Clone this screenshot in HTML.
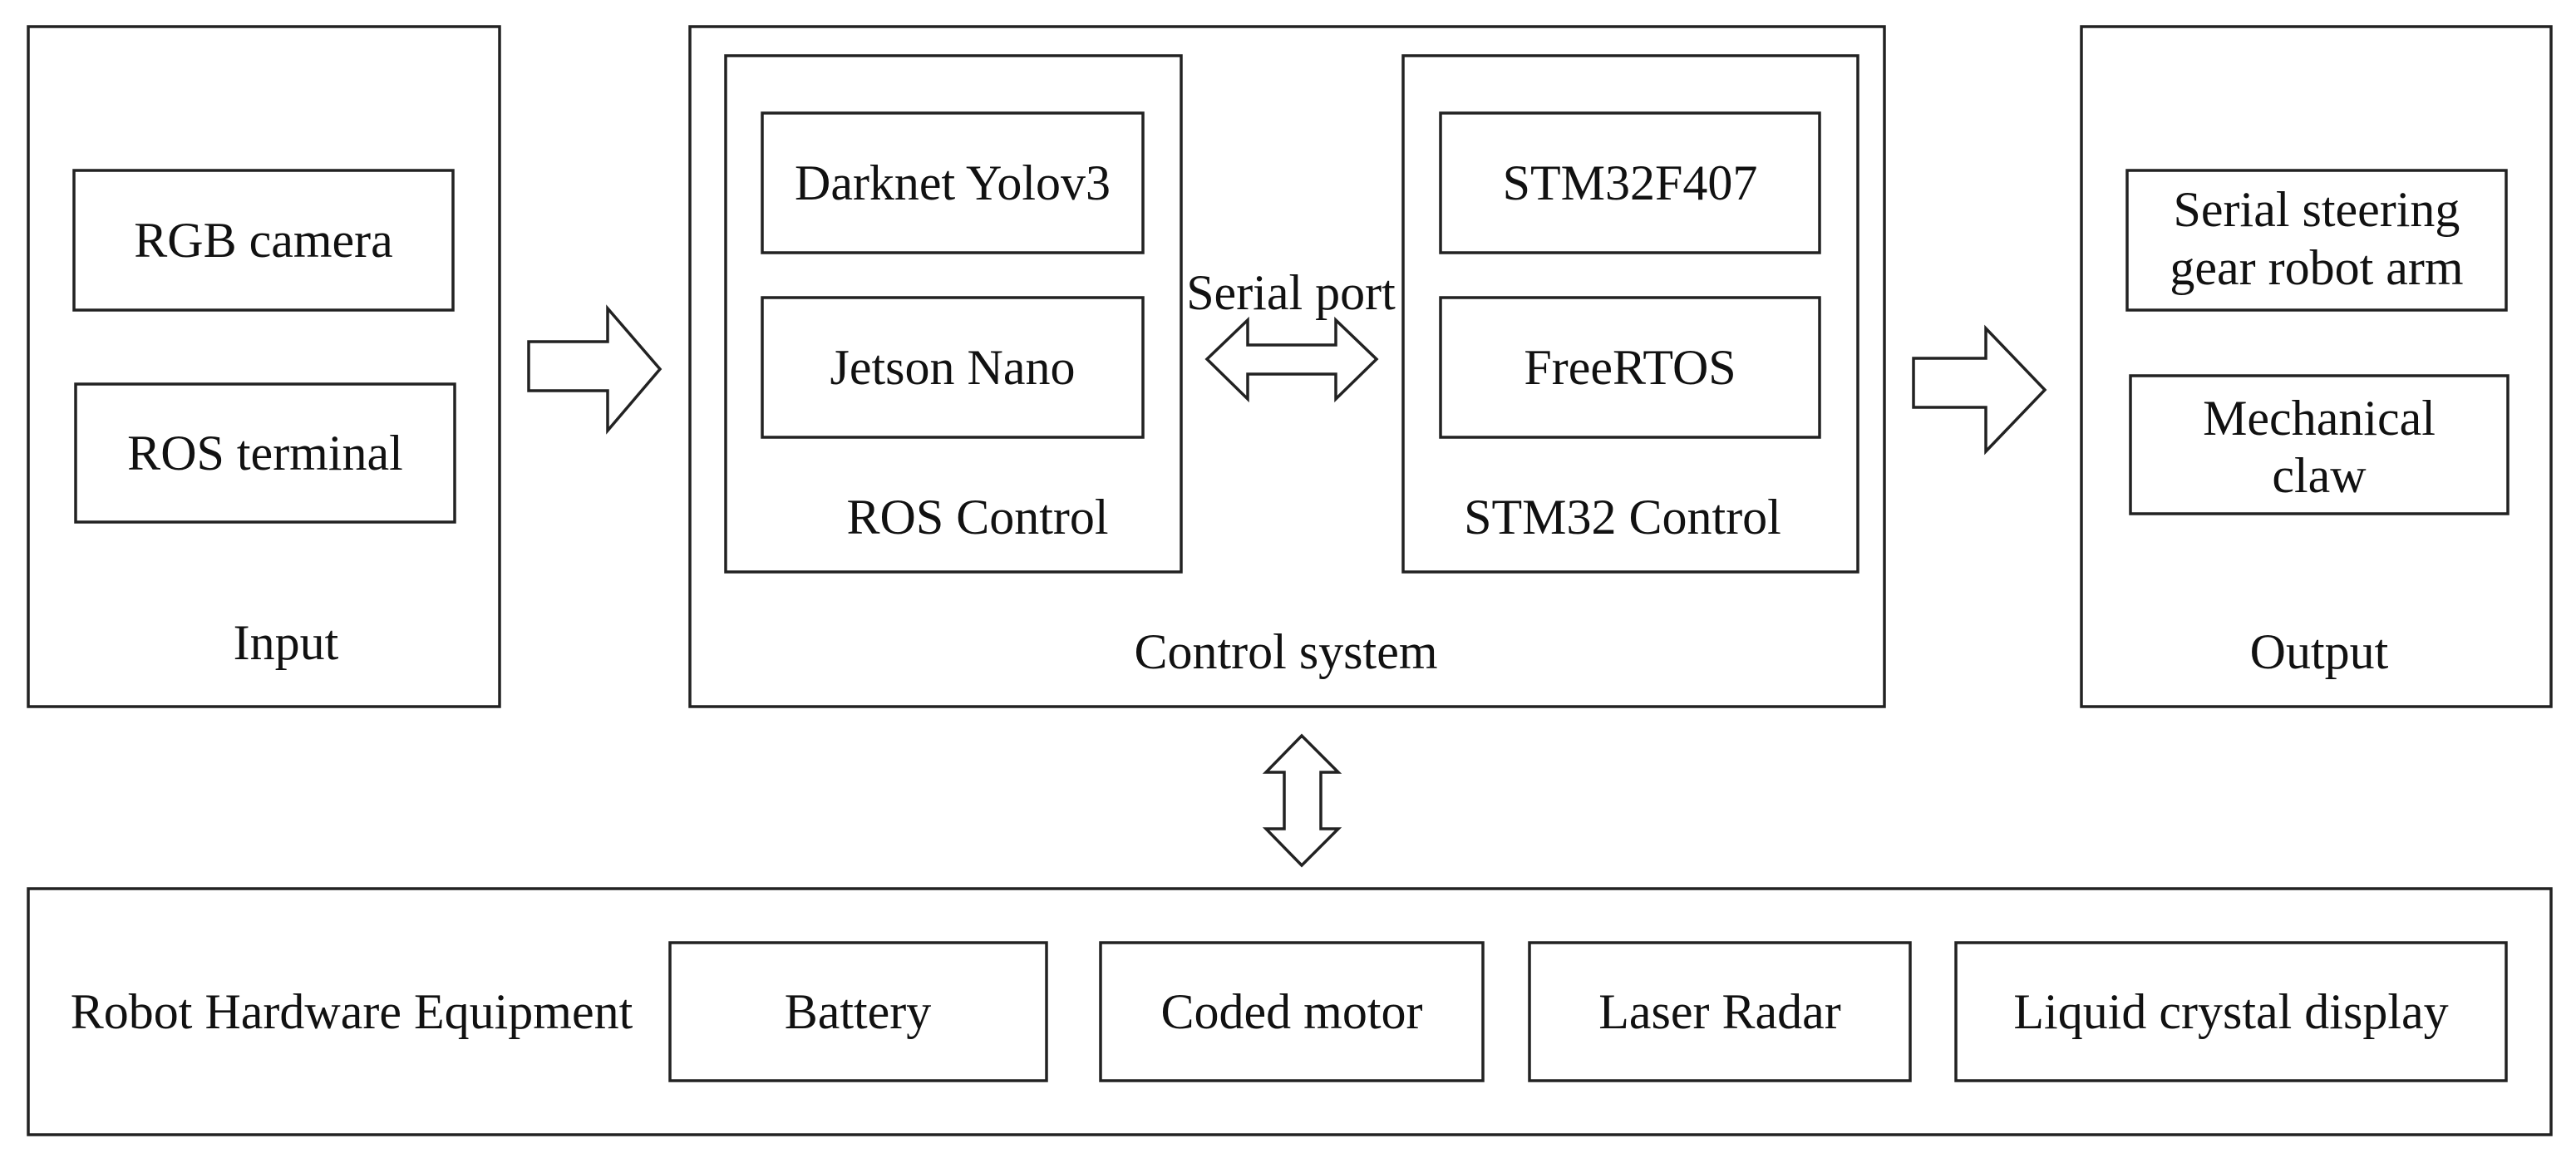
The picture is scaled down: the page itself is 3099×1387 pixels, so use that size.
<!DOCTYPE html>
<html><head><meta charset="utf-8"><style>
html,body{margin:0;padding:0;background:#fff}
svg{display:block}
text{font-family:"Liberation Serif",serif;font-size:60px;fill:#111;text-anchor:middle;dominant-baseline:central}
</style></head><body>
<svg width="3099" height="1387" viewBox="0 0 3099 1387" xmlns="http://www.w3.org/2000/svg">
<g fill="none" stroke="#222" stroke-width="3.5">
<rect x="34" y="32" width="567" height="818"/>
<rect x="89" y="205" width="456" height="168"/>
<rect x="91" y="462" width="456" height="166"/>
<rect x="830" y="32" width="1437" height="818"/>
<rect x="873" y="67" width="548" height="621"/>
<rect x="917" y="136" width="458" height="168"/>
<rect x="917" y="358" width="458" height="168"/>
<rect x="1688" y="67" width="547" height="621"/>
<rect x="1733" y="136" width="456" height="168"/>
<rect x="1733" y="358" width="456" height="168"/>
<rect x="2504" y="32" width="565" height="818"/>
<rect x="2559" y="205" width="456" height="168"/>
<rect x="2563" y="452" width="454" height="166"/>
<rect x="34" y="1069" width="3035" height="296"/>
<rect x="806" y="1134" width="453" height="166"/>
<rect x="1324" y="1134" width="460" height="166"/>
<rect x="1840" y="1134" width="458" height="166"/>
<rect x="2353" y="1134" width="662" height="166"/>
<polygon points="636,411 731,411 731,371 794,444 731,518 731,470 636,470"/>
<polygon points="2302,431 2389,431 2389,395 2460,469 2389,543 2389,490 2302,490"/>
<polygon points="1452,432 1501,385 1501,415 1607,415 1607,385 1656,432 1607,480 1607,450 1501,450 1501,480"/>
<polygon points="1566,885 1610,929 1589,929 1589,997 1610,997 1566,1041 1523,997 1545,997 1545,929 1523,929"/>
</g>
<text x="317" y="289">RGB camera</text>
<text x="319" y="545">ROS terminal</text>
<text x="344" y="773">Input</text>
<text x="1146" y="220">Darknet Yolov3</text>
<text x="1146" y="442">Jetson Nano</text>
<text x="1176" y="622">ROS Control</text>
<text x="1553" y="352">Serial port</text>
<text x="1961" y="220">STM32F407</text>
<text x="1961" y="442">FreeRTOS</text>
<text x="1952" y="622">STM32 Control</text>
<text x="1547" y="784">Control system</text>
<text x="2787" y="252">Serial steering</text>
<text x="2787" y="322">gear robot arm</text>
<text x="2790" y="503">Mechanical</text>
<text x="2790" y="572">claw</text>
<text x="2790" y="784">Output</text>
<text x="423" y="1217">Robot Hardware Equipment</text>
<text x="1032" y="1217">Battery</text>
<text x="1554" y="1217">Coded motor</text>
<text x="2069" y="1217">Laser Radar</text>
<text x="2684" y="1217">Liquid crystal display</text>
</svg>
</body></html>
